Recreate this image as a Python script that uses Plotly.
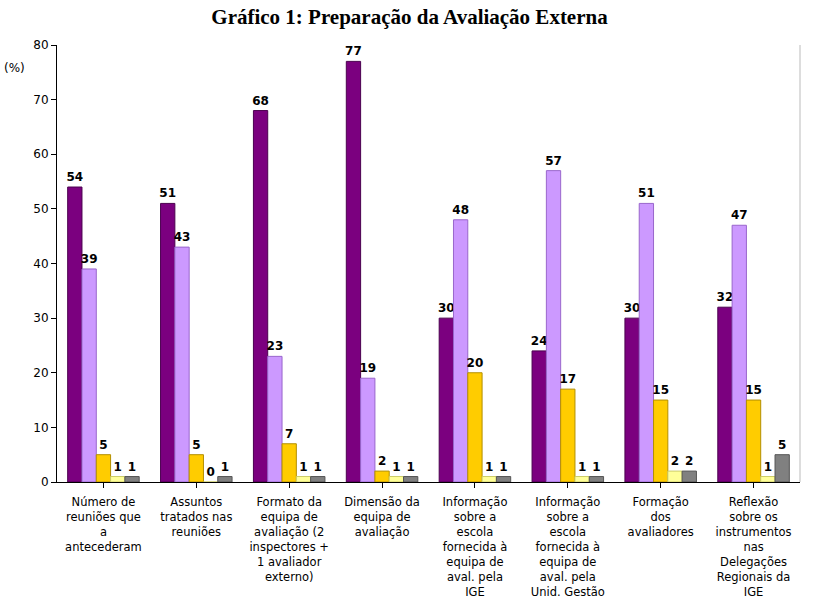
import plotly.graph_objects as go

categories = [
    "Número de<br>reuniões que<br>a<br>antecederam",
    "Assuntos<br>tratados nas<br>reuniões",
    "Formato da<br>equipa de<br>avaliação (2<br>inspectores +<br>1 avaliador<br>externo)",
    "Dimensão da<br>equipa de<br>avaliação",
    "Informação<br>sobre a<br>escola<br>fornecida à<br>equipa de<br>aval. pela<br>IGE",
    "Informação<br>sobre a<br>escola<br>fornecida à<br>equipa de<br>aval. pela<br>Unid. Gestão",
    "Formação<br>dos<br>avaliadores",
    "Reflexão<br>sobre os<br>instrumentos<br>nas<br>Delegações<br>Regionais da<br>IGE",
]
series1 = [54, 51, 68, 77, 30, 24, 30, 32]
series2 = [39, 43, 23, 19, 48, 57, 51, 47]
series3 = [5, 5, 7, 2, 20, 17, 15, 15]
series4 = [1, 0, 1, 1, 1, 1, 2, 1]
series5 = [1, 1, 1, 1, 1, 1, 2, 5]
y_ticks = [0, 10, 20, 30, 40, 50, 60, 70, 80]

colors = ["#7B007F", "#CC99FF", "#FFCC00", "#FFFF99", "#808080"]
edges = ["#4B004F", "#9966CC", "#B38F00", "#CCCC66", "#555555"]

fig = go.Figure()
for vals, c, e in zip([series1, series2, series3, series4, series5], colors, edges):
    fig.add_trace(go.Bar(
        x=list(range(len(categories))), y=vals,
        marker=dict(color=c, line=dict(color=e, width=1)),
        text=[str(v) for v in vals], textposition="outside",
        textfont=dict(family="DejaVu Sans", size=12, color="black"),
        texttemplate="<b>%{text}</b>", cliponaxis=False,
        showlegend=False,
    ))

fig.update_layout(
    width=819, height=598,
    margin=dict(l=57, r=19, t=45, b=116),
    paper_bgcolor="white", plot_bgcolor="white",
    barmode="group", bargap=0.23, bargroupgap=0,
    title=dict(text="<b>Gráfico 1: Preparação da Avaliação Externa</b>",
               font=dict(family="Liberation Serif", size=21, color="black"),
               x=0.5, xanchor="center", y=0.985, yanchor="top"),
    uniformtext=dict(minsize=12, mode="show"),
)
fig.update_xaxes(
    tickmode="array", tickvals=list(range(len(categories))), ticktext=categories,
    tickangle=0, showline=True, linecolor="black", linewidth=1, mirror=False,
    ticks="outside", tickson="boundaries", ticklen=5, tickcolor="black",
    tickfont=dict(family="DejaVu Sans", size=11.5, color="black"),
    ticklabelstandoff=4, automargin=False,
    range=[-0.5, len(categories) - 0.5], showgrid=False,
)
fig.update_yaxes(
    range=[0, 80], tickvals=y_ticks, showline=True, linecolor="black",
    linewidth=1, ticks="outside", ticklen=5, tickcolor="black",
    tickfont=dict(family="DejaVu Sans", size=12, color="black"),
    showgrid=False, zeroline=False, automargin=False,
)
fig.add_shape(type="line", xref="paper", yref="paper", x0=1, x1=1, y0=0, y1=1,
              line=dict(color="#BBBBBB", width=1))
fig.add_annotation(text="(%)", xref="paper", yref="paper", x=-0.074, y=0.947,
                   xanchor="left", yanchor="middle", showarrow=False,
                   font=dict(family="DejaVu Sans", size=12, color="black"))
fig.write_html("out.html")
